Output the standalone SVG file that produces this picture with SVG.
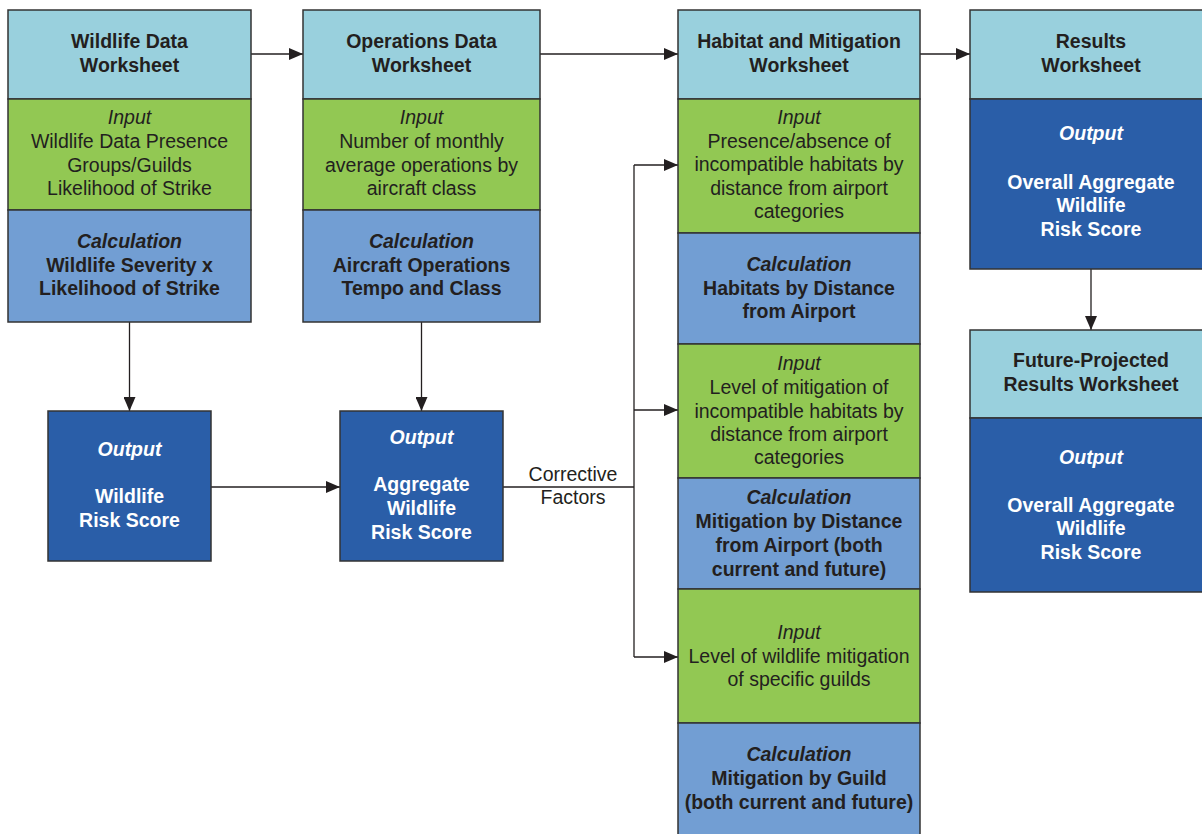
<svg xmlns="http://www.w3.org/2000/svg" width="1202" height="834" viewBox="0 0 1202 834">
<defs>
<marker id="ah" markerUnits="userSpaceOnUse" markerWidth="14" markerHeight="12" refX="14" refY="6" orient="auto">
<path d="M0,0 L14,6 L0,12 z" fill="#231F20"/>
</marker>
<style>
.hd{fill:#99D0DD}
.in{fill:#92C853}
.ca{fill:#729ED3}
.ou{fill:#2A5EA8}
.bx rect{stroke:#333333;stroke-width:1.5}
text{font-family:"Liberation Sans",Arial,sans-serif;font-size:19.5px;text-anchor:middle;fill:#231F20}
.b{font-weight:bold}
.i{font-style:italic}
.w{fill:#FFFFFF}
.cn{fill:none;stroke:#231F20;stroke-width:1.3}
</style>
</defs>
<rect x="0" y="0" width="1202" height="834" fill="#FFFFFF"/>

<g id="connectors">
<path class="cn" d="M251,54 H303" marker-end="url(#ah)"/>
<path class="cn" d="M540,54 H678" marker-end="url(#ah)"/>
<path class="cn" d="M920,54 H970" marker-end="url(#ah)"/>
<path class="cn" d="M129.5,322 V411" marker-end="url(#ah)"/>
<path class="cn" d="M421.5,322 V411" marker-end="url(#ah)"/>
<path class="cn" d="M211,487 H340" marker-end="url(#ah)"/>
<path class="cn" d="M503,487 H634"/>
<path class="cn" d="M634,165 V657"/>
<path class="cn" d="M634,165 H678" marker-end="url(#ah)"/>
<path class="cn" d="M634,410 H678" marker-end="url(#ah)"/>
<path class="cn" d="M634,657 H678" marker-end="url(#ah)"/>
<path class="cn" d="M1091,269 V330" marker-end="url(#ah)"/>
<text x="573" y="481">Corrective</text>
<text x="573" y="504">Factors</text>
</g>

<g id="wildlife-data-worksheet" class="bx">
<rect class="hd" x="8" y="10" width="243" height="89"/>
<rect class="in" x="8" y="99" width="243" height="111"/>
<rect class="ca" x="8" y="210" width="243" height="112"/>
<text class="b" x="129.5" y="48">Wildlife Data</text>
<text class="b" x="129.5" y="72">Worksheet</text>
<text class="i" x="129.5" y="124">Input</text>
<text x="129.5" y="148">Wildlife Data Presence</text>
<text x="129.5" y="172">Groups/Guilds</text>
<text x="129.5" y="195">Likelihood of Strike</text>
<text class="b i" x="129.5" y="248">Calculation</text>
<text class="b" x="129.5" y="272">Wildlife Severity x</text>
<text class="b" x="129.5" y="295">Likelihood of Strike</text>
</g>

<g id="operations-data-worksheet" class="bx">
<rect class="hd" x="303" y="10" width="237" height="89"/>
<rect class="in" x="303" y="99" width="237" height="111"/>
<rect class="ca" x="303" y="210" width="237" height="112"/>
<text class="b" x="421.5" y="48">Operations Data</text>
<text class="b" x="421.5" y="72">Worksheet</text>
<text class="i" x="421.5" y="124">Input</text>
<text x="421.5" y="148">Number of monthly</text>
<text x="421.5" y="172">average operations by</text>
<text x="421.5" y="195">aircraft class</text>
<text class="b i" x="421.5" y="248">Calculation</text>
<text class="b" x="421.5" y="272">Aircraft Operations</text>
<text class="b" x="421.5" y="295">Tempo and Class</text>
</g>

<g id="wildlife-risk-score" class="bx">
<rect class="ou" x="48" y="411" width="163" height="150"/>
<text class="b i w" x="129.5" y="456">Output</text>
<text class="b w" x="129.5" y="503">Wildlife</text>
<text class="b w" x="129.5" y="527">Risk Score</text>
</g>

<g id="aggregate-wildlife-risk-score" class="bx">
<rect class="ou" x="340" y="411" width="163" height="150"/>
<text class="b i w" x="421.5" y="444">Output</text>
<text class="b w" x="421.5" y="491">Aggregate</text>
<text class="b w" x="421.5" y="515">Wildlife</text>
<text class="b w" x="421.5" y="539">Risk Score</text>
</g>

<g id="habitat-and-mitigation-worksheet" class="bx">
<rect class="hd" x="678" y="10" width="242" height="89"/>
<rect class="in" x="678" y="99" width="242" height="134"/>
<rect class="ca" x="678" y="233" width="242" height="111"/>
<rect class="in" x="678" y="344" width="242" height="134"/>
<rect class="ca" x="678" y="478" width="242" height="111"/>
<rect class="in" x="678" y="589" width="242" height="134"/>
<rect class="ca" x="678" y="723" width="242" height="125"/>
<text class="b" x="799" y="48">Habitat and Mitigation</text>
<text class="b" x="799" y="72">Worksheet</text>
<text class="i" x="799" y="124">Input</text>
<text x="799" y="148">Presence/absence of</text>
<text x="799" y="171">incompatible habitats by</text>
<text x="799" y="195">distance from airport</text>
<text x="799" y="218">categories</text>
<text class="b i" x="799" y="271">Calculation</text>
<text class="b" x="799" y="295">Habitats by Distance</text>
<text class="b" x="799" y="318">from Airport</text>
<text class="i" x="799" y="370">Input</text>
<text x="799" y="394">Level of mitigation of</text>
<text x="799" y="418">incompatible habitats by</text>
<text x="799" y="441">distance from airport</text>
<text x="799" y="464">categories</text>
<text class="b i" x="799" y="504">Calculation</text>
<text class="b" x="799" y="528">Mitigation by Distance</text>
<text class="b" x="799" y="552">from Airport (both</text>
<text class="b" x="799" y="576">current and future)</text>
<text class="i" x="799" y="639">Input</text>
<text x="799" y="663">Level of wildlife mitigation</text>
<text x="799" y="686">of specific guilds</text>
<text class="b i" x="799" y="761">Calculation</text>
<text class="b" x="799" y="785">Mitigation by Guild</text>
<text class="b" x="799" y="809">(both current and future)</text>
</g>

<g id="results-worksheet" class="bx">
<rect class="hd" x="970" y="10" width="242" height="89"/>
<rect class="ou" x="970" y="99" width="242" height="170"/>
<text class="b" x="1091" y="48">Results</text>
<text class="b" x="1091" y="72">Worksheet</text>
<text class="b i w" x="1091" y="140">Output</text>
<text class="b w" x="1091" y="189">Overall Aggregate</text>
<text class="b w" x="1091" y="212">Wildlife</text>
<text class="b w" x="1091" y="236">Risk Score</text>
</g>

<g id="future-projected-results-worksheet" class="bx">
<rect class="hd" x="970" y="330" width="242" height="88"/>
<rect class="ou" x="970" y="418" width="242" height="174"/>
<text class="b" x="1091" y="367">Future-Projected</text>
<text class="b" x="1091" y="391">Results Worksheet</text>
<text class="b i w" x="1091" y="464">Output</text>
<text class="b w" x="1091" y="512">Overall Aggregate</text>
<text class="b w" x="1091" y="535">Wildlife</text>
<text class="b w" x="1091" y="559">Risk Score</text>
</g>
</svg>
